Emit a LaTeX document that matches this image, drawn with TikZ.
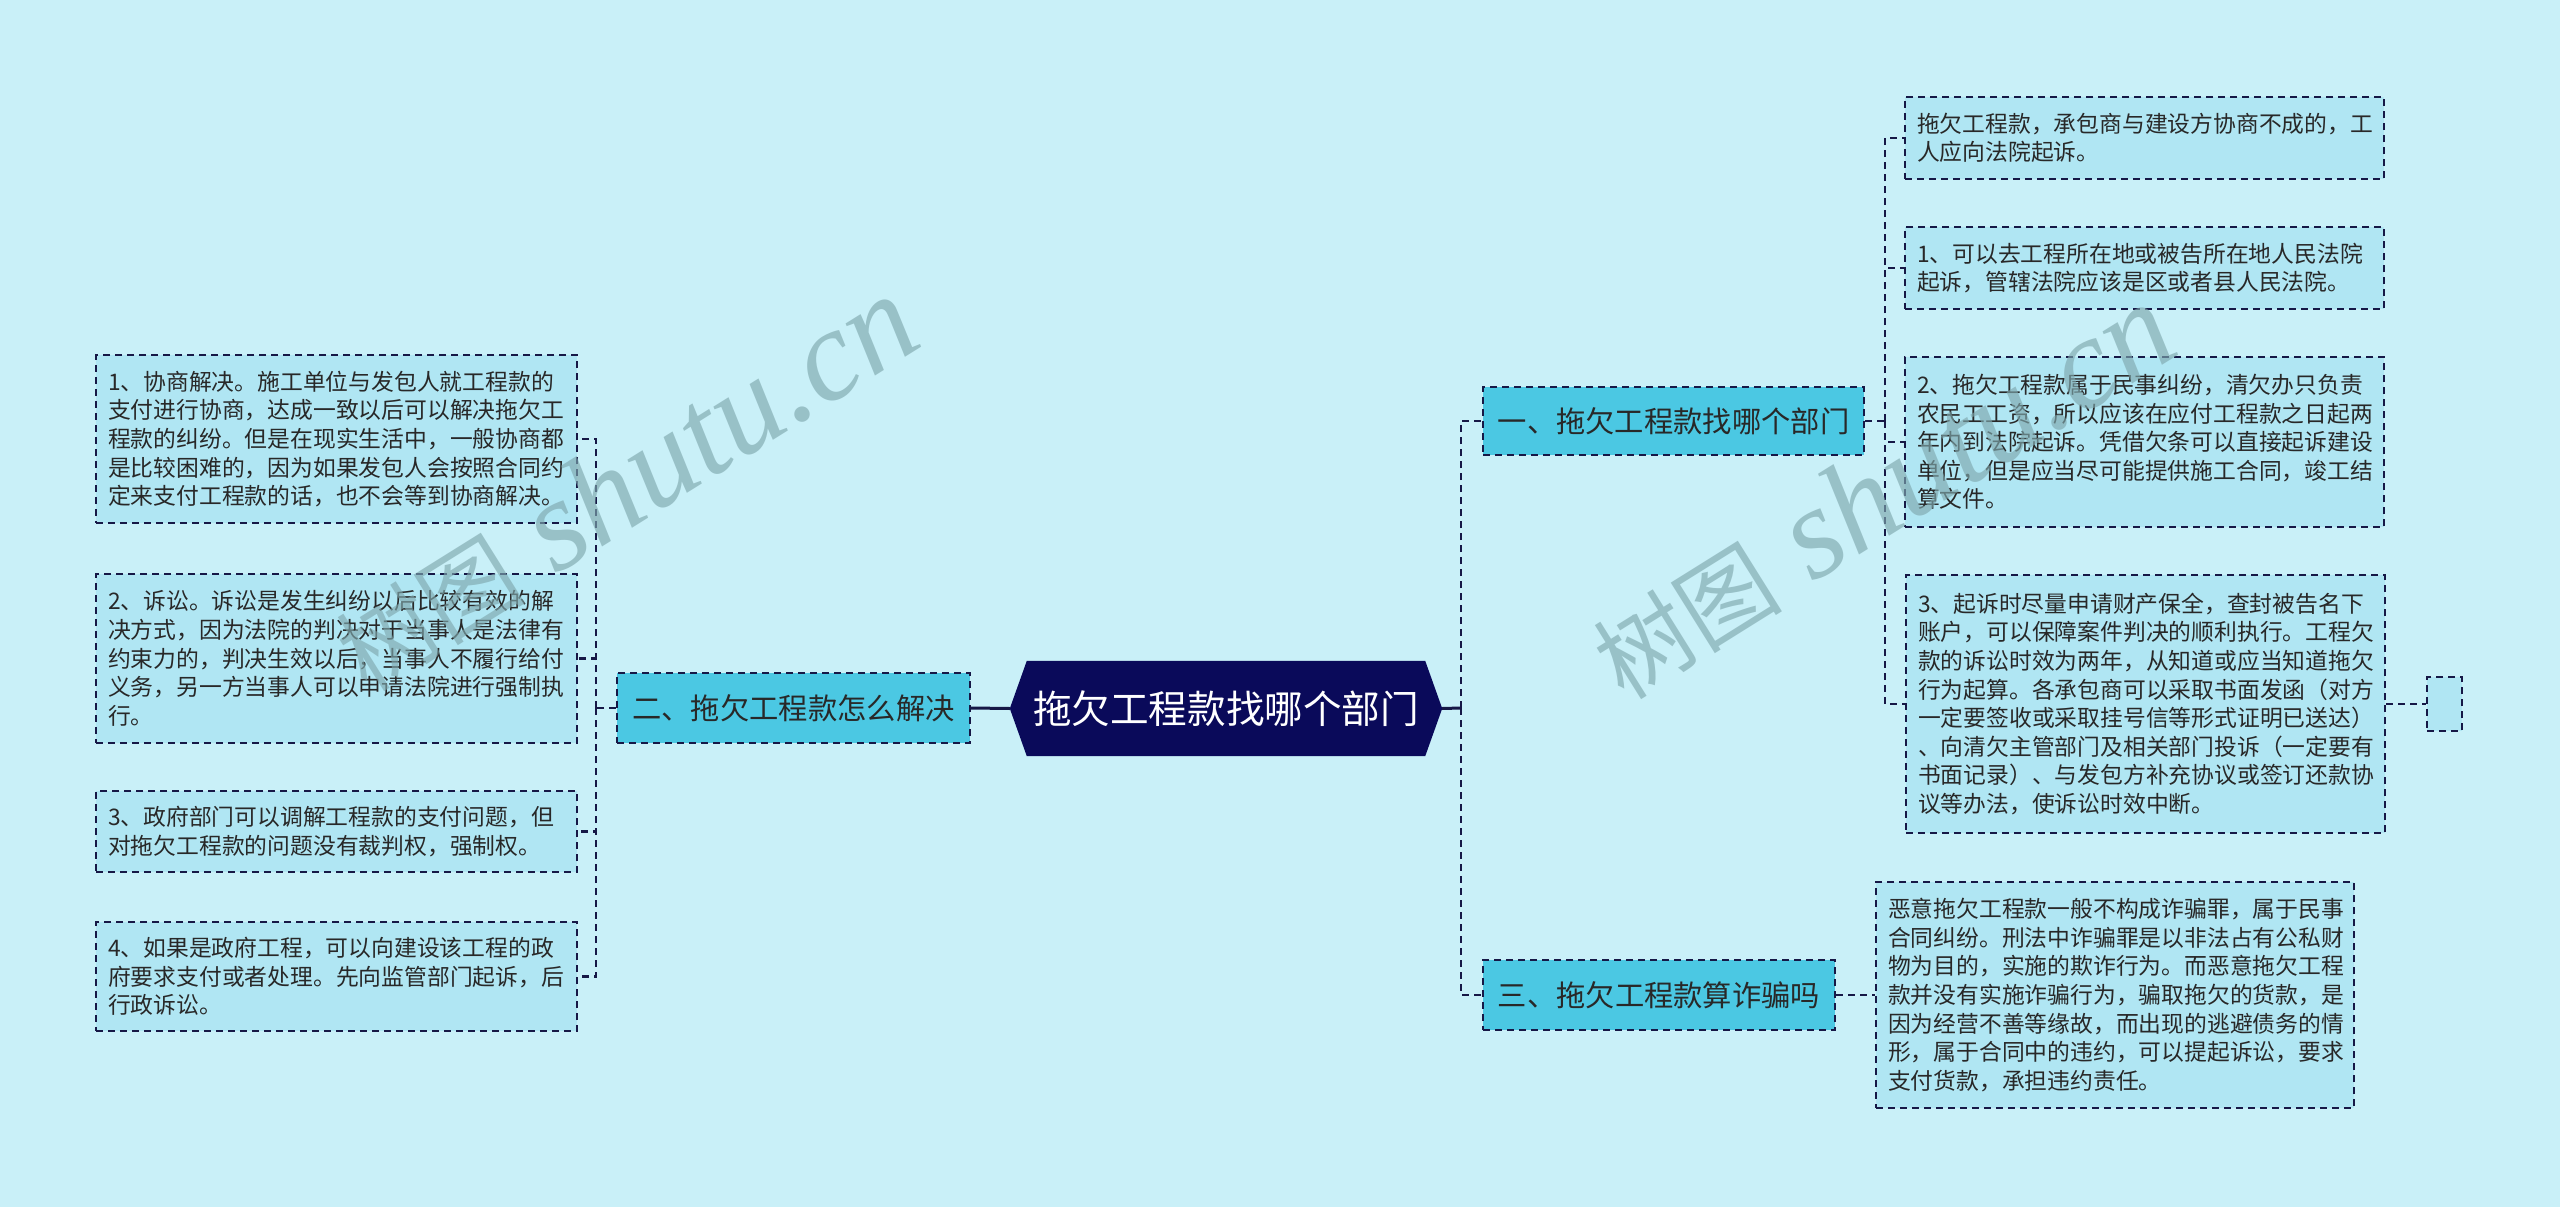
\documentclass[tikz,border=0pt]{standalone}
\usepackage{fontspec}
\setmainfont{Noto Sans CJK SC}
\newfontfamily\wmlatin{Liberation Serif}
\usetikzlibrary{backgrounds}
\definecolor{pagebg}{RGB}{201,240,248}
\definecolor{leaffill}{RGB}{176,230,243}
\definecolor{branchfill}{RGB}{75,200,227}
\definecolor{rootfill}{RGB}{10,10,90}
\definecolor{linec}{RGB}{22,24,70}
\definecolor{txt}{RGB}{40,40,40}
\definecolor{wmc}{RGB}{127,168,174}
\begin{document}
\begin{tikzpicture}[x=1pt,y=-1pt,
  leaf/.style={draw=linec, line width=2pt, dash pattern=on 7pt off 5pt,
    fill=leaffill, text=txt, align=left, inner xsep=12pt, inner ysep=0pt,
    font=\fontsize{22.8}{28.6}\selectfont},
  branch/.style={draw=linec, line width=2pt, dash pattern=on 7pt off 5pt,
    fill=branchfill, text=txt, inner sep=0pt,
    font=\fontsize{29.3}{34}\selectfont},
  conn/.style={draw=linec, line width=2.5pt, dash pattern=on 7pt off 5pt},
  rootconn/.style={draw=linec, line width=3pt},
  wm/.style={text=wmc, opacity=0.65, rotate=32, anchor=base west, inner sep=0pt}]
\useasboundingbox (0,0) rectangle (2560,1207);
\begin{scope}[on background layer]
  \fill[pagebg] (0,0) rectangle (2560,1207);
\end{scope}

% root
\node[inner sep=0pt, minimum width=432pt, minimum height=95pt, text=white,
  font=\fontsize{38.6}{44}\selectfont] (c) at (1226,708.5) {拖欠工程款找哪个部门};
\begin{scope}[on background layer]
  \fill[rootfill] (c.west) -- ([xshift=17pt]c.north west) -- ([xshift=-17pt]c.north east)
    -- (c.east) -- ([xshift=-17pt]c.south east) -- ([xshift=17pt]c.south west) -- cycle;
\end{scope}

% left branch
\node[branch, minimum width=353pt, minimum height=70pt] (b2) at (793.5,708) {二、拖欠工程款怎么解决};

\node[leaf, text width=457pt, minimum height=168pt] (L1) at (336.5,439) {1、协商解决。施工单位与发包人就工程款的\\支付进行协商，达成一致以后可以解决拖欠工\\程款的纠纷。但是在现实生活中，一般协商都\\是比较困难的，因为如果发包人会按照合同约\\定来支付工程款的话，也不会等到协商解决。};
\node[leaf, text width=457pt, minimum height=169pt] (L2) at (336.5,658.5) {2、诉讼。诉讼是发生纠纷以后比较有效的解\\决方式，因为法院的判决对于当事人是法律有\\约束力的，判决生效以后，当事人不履行给付\\义务，另一方当事人可以申请法院进行强制执\\行。};
\node[leaf, text width=457pt, minimum height=81pt] (L3) at (336.5,831.5) {3、政府部门可以调解工程款的支付问题，但\\对拖欠工程款的问题没有裁判权，强制权。};
\node[leaf, text width=457pt, minimum height=109pt] (L4) at (336.5,976.5) {4、如果是政府工程，可以向建设该工程的政\\府要求支付或者处理。先向监管部门起诉，后\\行政诉讼。};

% right branches
\node[branch, minimum width=381pt, minimum height=68pt] (b1) at (1673.5,421) {一、拖欠工程款找哪个部门};
\node[branch, minimum width=352pt, minimum height=70pt] (b3) at (1659,995) {三、拖欠工程款算诈骗吗};

\node[leaf, text width=455pt, minimum height=82pt] (RA) at (2144.5,138) {拖欠工程款，承包商与建设方协商不成的，工\\人应向法院起诉。};
\node[leaf, text width=455pt, minimum height=82pt] (RB) at (2144.5,268) {1、可以去工程所在地或被告所在地人民法院\\起诉，管辖法院应该是区或者县人民法院。};
\node[leaf, text width=455pt, minimum height=170pt] (RC) at (2144.5,442) {2、拖欠工程款属于民事纠纷，清欠办只负责\\农民工工资，所以应该在应付工程款之日起两\\年内到法院起诉。凭借欠条可以直接起诉建设\\单位，但是应当尽可能提供施工合同，竣工结\\算文件。};
\node[leaf, text width=455pt, minimum height=258pt] (RD) at (2145.5,704) {3、起诉时尽量申请财产保全，查封被告名下\\账户，可以保障案件判决的顺利执行。工程欠\\款的诉讼时效为两年，从知道或应当知道拖欠\\行为起算。各承包商可以采取书面发函（对方\\一定要签收或采取挂号信等形式证明已送达）\\、向清欠主管部门及相关部门投诉（一定要有\\书面记录）、与发包方补充协议或签订还款协\\议等办法，使诉讼时效中断。};
\node[leaf, inner sep=0pt, minimum width=35pt, minimum height=54pt] (sm) at (2444.5,704) {};
\node[leaf, text width=454pt, minimum height=226pt] (RE) at (2115,995) {恶意拖欠工程款一般不构成诈骗罪，属于民事\\合同纠纷。刑法中诈骗罪是以非法占有公私财\\物为目的，实施的欺诈行为。而恶意拖欠工程\\款并没有实施诈骗行为，骗取拖欠的货款，是\\因为经营不善等缘故，而出现的逃避债务的情\\形，属于合同中的违约，可以提起诉讼，要求\\支付货款，承担违约责任。};

% junctions
\coordinate (jL) at (596,708);
\coordinate (jR) at (1461,708);
\coordinate (jR1) at (1885,421);

% connectors
\draw[rootconn] (c.west) -- (b2.east);
\draw[conn] (b2.west) -- (jL);
\draw[conn] (jL) |- (L1.east);
\draw[conn] (jL) |- (L2.east);
\draw[conn] (jL) |- (L3.east);
\draw[conn] (jL) |- (L4.east);

\draw[rootconn] (c.east) -- (jR);
\draw[conn] (jR) |- (b1.west);
\draw[conn] (jR) |- (b3.west);

\draw[conn] (b1.east) -- (jR1);
\draw[conn] (jR1) |- (RA.west);
\draw[conn] (jR1) |- (RB.west);
\draw[conn] (jR1) |- (RC.west);
\draw[conn] (jR1) |- (RD.west);
\draw[conn] (RD.east) -- (sm.west);
\draw[conn] (b3.east) -- (RE.west);

% watermarks
\node[wm] (wm1) at (367,694) {\fontsize{95}{100}\selectfont 树图\wmlatin\itshape\fontsize{130}{130}\selectfont\ shutu.cn};
\node[wm] (wm2) at (1624,702) {\fontsize{95}{100}\selectfont 树图\wmlatin\itshape\fontsize{130}{130}\selectfont\ shutu.cn};
\end{tikzpicture}
\end{document}
